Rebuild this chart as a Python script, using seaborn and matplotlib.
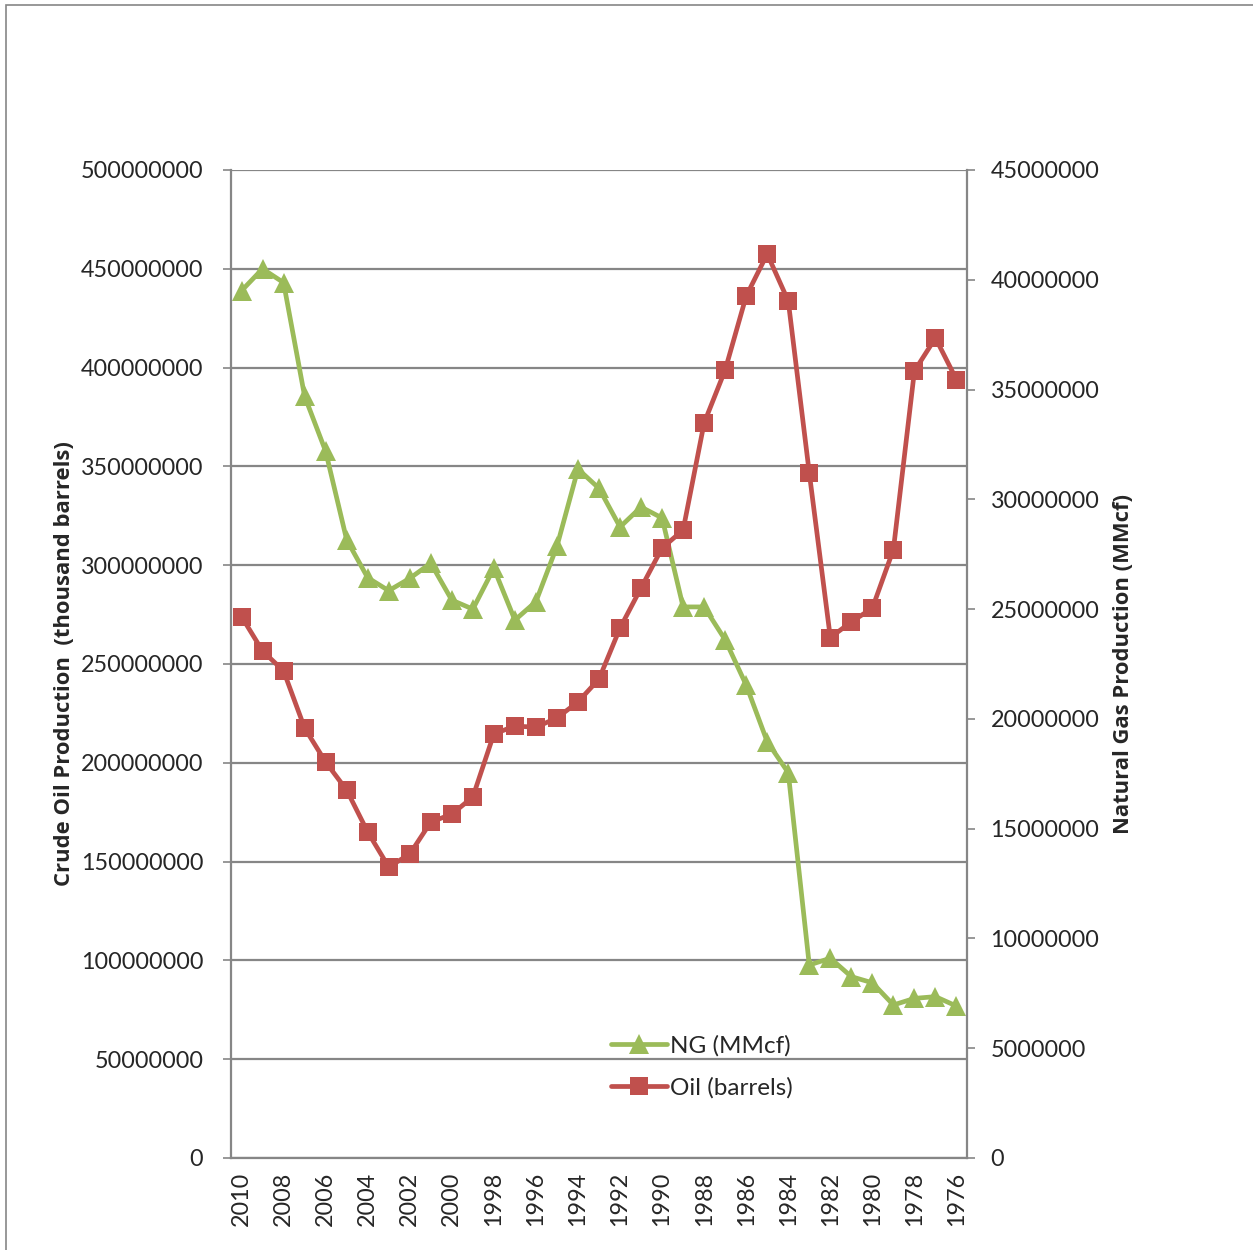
import matplotlib
matplotlib.use("Agg")
import matplotlib.pyplot as plt
import seaborn as sns
import pandas as pd
from matplotlib.patches import Rectangle

# Yıllar ve üretim değerleri
years = list(range(2010, 1975, -1))
oil_barrels = [274e6, 256.6e6, 246.5e6, 217.6e6, 200.4e6, 186.2e6, 165e6, 147.3e6, 153.8e6, 170e6,
               174e6, 182.7e6, 214.6e6, 218.6e6, 218e6, 222.7e6, 230.8e6, 242.4e6, 268.2e6, 288.5e6,
               308.7e6, 317.8e6, 372e6, 398.8e6, 436.2e6, 457.5e6, 433.7e6, 346.7e6, 263.4e6, 271.3e6,
               278.3e6, 307.9e6, 398.3e6, 415e6, 393.9e6]
ng_mmcf = [39.5e6, 40.5e6, 39.87e6, 34.7e6, 32.19e6, 28.16e6, 26.43e6, 25.84e6, 26.4e6, 27.09e6,
           25.41e6, 25.0e6, 26.86e6, 24.5e6, 25.34e6, 27.86e6, 31.38e6, 30.5e6, 28.74e6, 29.65e6,
           29.15e6, 25.1e6, 25.1e6, 23.6e6, 21.54e6, 18.96e6, 17.55e6, 8.79e6, 9.1e6, 8.26e6,
           7.98e6, 6.97e6, 7.27e6, 7.35e6, 6.92e6]

df = pd.DataFrame({"year": years, "oil": oil_barrels, "ng": ng_mmcf})

sns.set_style("white")
plt.rcParams["font.family"] = ["Lato", "DejaVu Sans"]

green = "#9BBB59"
red = "#C0504D"
grid_gray = "#868686"
fs = 16.8

fig = plt.figure(figsize=(12.53, 12.5), dpi=100)
ax = fig.add_axes([231 / 1253, 1 - 1158 / 1250, 736 / 1253, 988 / 1250])
ax2 = ax.twinx()

# NG sağ eksende, alt katmanda
ax.set_zorder(2)
ax2.set_zorder(1)
ax.patch.set_visible(False)

oil_ticks = list(range(0, 500000001, 50000000))
ng_ticks = list(range(0, 45000001, 5000000))

# yatay ızgara çizgileri (sol eksene göre)
for v in oil_ticks:
    ax2.axhline(v * 45e6 / 500e6, color=grid_gray, lw=1.6, zorder=0)

sns.lineplot(data=df, x="year", y="ng", ax=ax2, color=green, lw=3.4, marker="^",
             markersize=15, markeredgewidth=0, sort=False, label="NG (MMcf)", legend=False)
sns.lineplot(data=df, x="year", y="oil", ax=ax, color=red, lw=3.4, marker="s",
             markersize=13.5, markeredgewidth=0, sort=False, label="Oil (barrels)", legend=False)

ax.set_xlim(2010.5, 1975.5)
ax.set_ylim(0, 500000000)
ax2.set_ylim(0, 45000000)

ax.set_yticks(oil_ticks)
ax.set_yticklabels([str(v) for v in oil_ticks], fontsize=fs)
ax2.set_yticks(ng_ticks)
ax2.set_yticklabels([str(v) for v in ng_ticks], fontsize=fs)

even_years = [y for y in years if y % 2 == 0]
ax.set_xticks(even_years)
ax.set_xticklabels([str(y) for y in even_years], rotation=90, fontsize=fs)
ax.set_xticks([y + 0.5 for y in range(1975, 2011)], minor=True)
ax.tick_params(axis="x", which="major", length=0, pad=10)
ax.tick_params(axis="x", which="minor", length=6, width=1.2, color=grid_gray, direction="out")
ax.tick_params(axis="y", length=6, width=1.2, color=grid_gray, direction="out", pad=14)
ax2.tick_params(axis="y", length=6, width=1.2, color=grid_gray, direction="out", pad=11)

for a in (ax, ax2):
    for side in ("left", "right", "bottom"):
        a.spines[side].set_color(grid_gray)
        a.spines[side].set_linewidth(1.6)
    a.spines["top"].set_visible(False)
ax2.spines["left"].set_visible(False)
ax2.spines["bottom"].set_visible(False)
ax.spines["right"].set_visible(False)

label_font = ["Open Sans", "DejaVu Sans"]
ax.set_xlabel("")
ax.set_ylabel("Crude Oil Production  (thousand barrels)", fontsize=15.8, fontweight="bold",
              family=label_font, labelpad=4)
ax2.set_ylabel("Natural Gas Production (MMcf)", fontsize=15.8, fontweight="bold",
               family=label_font, labelpad=10)

h1, l1 = ax2.get_legend_handles_labels()
h2, l2 = ax.get_legend_handles_labels()
leg = ax.legend(h1 + h2, l1 + l2, loc="upper left", bbox_to_anchor=(0.487, 0.147),
                frameon=False, fontsize=17.5, handlelength=2.3, handletextpad=0.1, labelspacing=0.85)

# dış çerçeve
fig.patches.append(Rectangle((6 / 1253, -0.1), 1.2, 1 - 5 / 1250 + 0.1, transform=fig.transFigure,
                             fill=False, edgecolor=grid_gray, lw=1.2))

fig.savefig("out.png", dpi=100)
